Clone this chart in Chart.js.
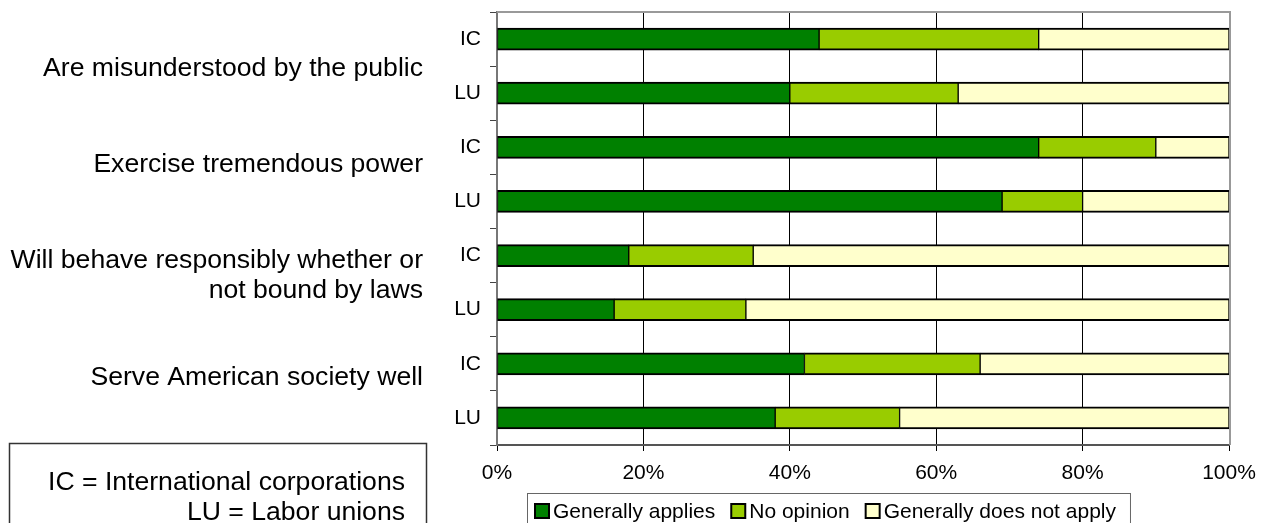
<!DOCTYPE html>
<html>
<head>
<meta charset="utf-8">
<script src="https://cdn.jsdelivr.net/npm/chart.js@4/dist/chart.umd.min.js"></script>
<style>
  html, body { margin: 0; padding: 0; background: #fff; }
  #wrap { width: 1268px; height: 523px; position: relative; }
</style>
</head>
<body>
<div id="wrap"><canvas id="chart" width="1268" height="523"></canvas></div>
<script>
const ROWS = ["IC", "LU", "IC", "LU", "IC", "LU", "IC", "LU"];
const GROUPS = [
  ["Are misunderstood by the public"],
  ["Exercise tremendous power"],
  ["Will behave responsibly whether or", "not bound by laws"],
  ["Serve American society well"],
];
const SERIES = ["Generally applies", "No opinion", "Generally does not apply"];
const APPLIES = [44, 40, 74, 69, 18, 16, 42, 38];
const NO_OPINION = [30, 23, 16, 11, 17, 18, 24, 17];
const NOT_APPLY = [26, 37, 10, 20, 65, 66, 34, 45];
const X_TICKS = [0, 20, 40, 60, 80, 100];
const NOTE = ["IC = International corporations", "LU = Labor unions"];

const COLORS = ["#008000", "#99CC00", "#FFFFCC"];
const FONT = "'Liberation Sans', Arial, sans-serif";

// group labels, key box and legend, all drawn on the canvas
const extras = {
  id: "extras",
  afterDraw(chart) {
    const { ctx, chartArea: ca } = chart;
    ctx.save();

    // plot frame: grey top and right edges
    ctx.strokeStyle = "#999";
    ctx.lineWidth = 2;
    ctx.beginPath();
    ctx.moveTo(ca.left, ca.top);
    ctx.lineTo(ca.right + 1, ca.top);
    ctx.lineTo(ca.right + 1, ca.bottom);
    ctx.stroke();

    // group labels on the left
    ctx.fillStyle = "#000";
    ctx.font = `26.6px ${FONT}`;
    ctx.textAlign = "right";
    ctx.textBaseline = "alphabetic";
    const baselines = [76, 172, 268, 385];
    GROUPS.forEach((lines, i) => {
      lines.forEach((t, j) => ctx.fillText(t, 423, baselines[i] + j * 30));
    });

    // key box bottom left
    ctx.strokeStyle = "#333";
    ctx.lineWidth = 1.5;
    ctx.strokeRect(9.5, 443.5, 417, 90);
    NOTE.forEach((t, j) => ctx.fillText(t, 405, 490 + j * 30));

    // legend
    ctx.font = `21px ${FONT}`;
    ctx.textAlign = "left";
    ctx.textBaseline = "middle";
    const ly = 511;
    const startX = 535;
    let x = startX;
    let textEnd = x;
    chart.data.datasets.forEach((ds) => {
      ctx.fillStyle = ds.backgroundColor;
      ctx.fillRect(x, ly - 7, 14, 14);
      ctx.strokeStyle = "#000";
      ctx.lineWidth = 2;
      ctx.strokeRect(x, ly - 7, 14, 14);
      ctx.fillStyle = "#000";
      ctx.fillText(ds.label, x + 18, ly + 1);
      textEnd = x + 18 + ctx.measureText(ds.label).width;
      x = textEnd + 16;
    });
    ctx.strokeStyle = "#666";
    ctx.lineWidth = 1;
    ctx.strokeRect(startX - 8 + 0.5, 493.5, textEnd + 14 - (startX - 8), 40);

    ctx.restore();
  },
};

new Chart(document.getElementById("chart"), {
  type: "bar",
  data: {
    labels: ROWS,
    datasets: [APPLIES, NO_OPINION, NOT_APPLY].map((d, i) => ({
      label: SERIES[i],
      data: d,
      backgroundColor: COLORS[i],
      borderColor: "#000",
      borderWidth: { top: 2, bottom: 2, left: 1, right: 1 },
      borderSkipped: false,
      barThickness: 22,
    })),
  },
  options: {
    indexAxis: "y",
    responsive: false,
    animation: false,
    devicePixelRatio: 1,
    layout: { padding: { top: 12, right: 39, left: 0, bottom: 0 } },
    plugins: { legend: { display: false }, tooltip: { enabled: false } },
    scales: {
      x: {
        stacked: true,
        min: 0,
        max: 100,
        afterBuildTicks: (s) => { s.ticks = X_TICKS.map((v) => ({ value: v })); },
        afterFit: (s) => {
          s.height = 78;
          s.paddingLeft = 0;
          s.paddingRight = 0;
        },
        grid: { color: "#000", lineWidth: 1, tickLength: 6, drawOnChartArea: true },
        border: { color: "#555", width: 2 },
        ticks: {
          color: "#000",
          font: { family: FONT, size: 21 },
          padding: 10,
          maxRotation: 0,
          callback: (v) => v + "%",
        },
      },
      y: {
        stacked: true,
        afterFit: (s) => {
          s.width = 497;
          s.paddingTop = 0;
          s.paddingBottom = 0;
        },
        grid: { display: true, drawOnChartArea: false, drawTicks: true, tickLength: 7, color: "#444", offset: true },
        border: { color: "#777", width: 2 },
        ticks: { color: "#000", font: { family: FONT, size: 21 }, padding: 9 },
      },
    },
  },
  plugins: [extras],
});
</script>
</body>
</html>
